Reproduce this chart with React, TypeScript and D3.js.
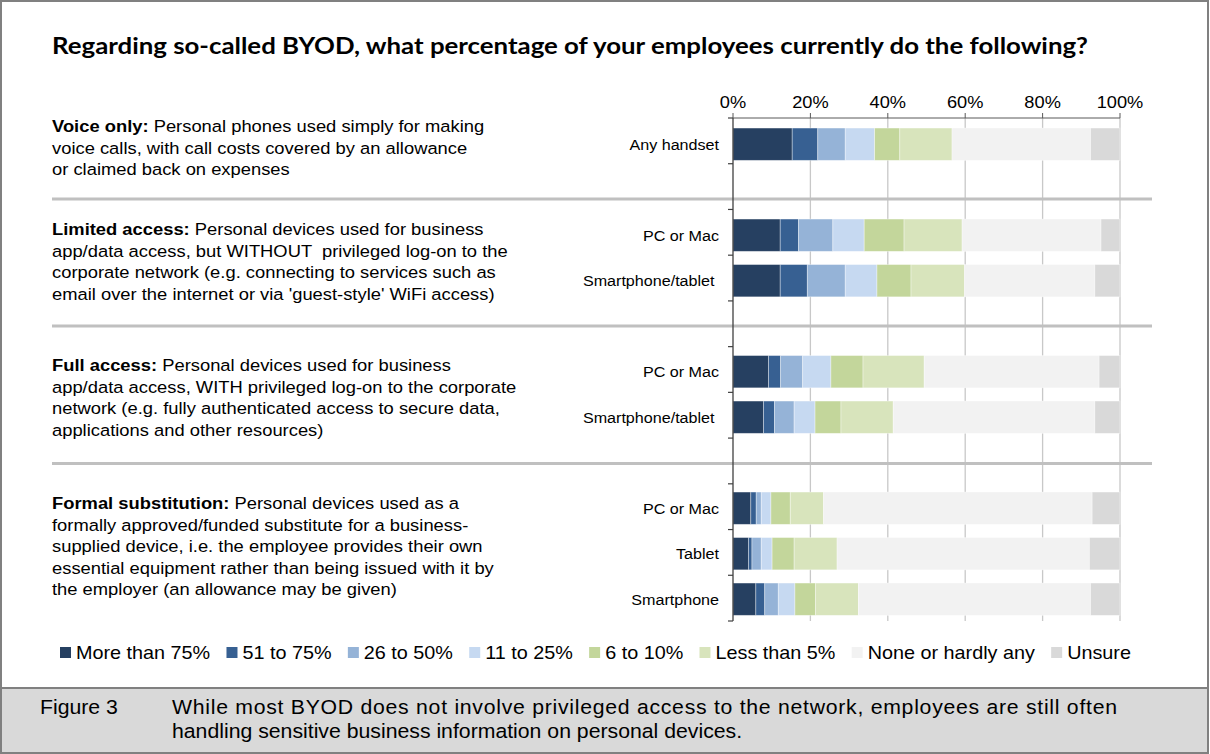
import React from 'react';
import * as d3 from 'd3';

// ---------- data ----------
const categories = ["Any handset", "", "PC or Mac", "Smartphone/tablet ", "", "PC or Mac", "Smartphone/tablet ", "", "PC or Mac", "Tablet", "Smartphone"];
const seriesNames = ["More than 75%", "51 to 75%", "26 to 50%", "11 to 25%", "6 to 10%", "Less than 5%", "None or hardly any", "Unsure"];
const seriesColors = ["#264061", "#376092", "#95b3d7", "#c6d9f1", "#c3d69b", "#d8e4bc", "#f2f2f2", "#d9d9d9"];
const moreThan75 = [15.3, null, 12.2, 12.2, null, 9.2, 7.9, null, 4.6, 4.0, 5.9];
const from51to75 = [6.6, null, 4.7, 7.0, null, 3.1, 2.8, null, 1.4, 0.9, 2.3];
const from26to50 = [7.1, null, 8.9, 9.8, null, 5.7, 5.1, null, 1.3, 2.4, 3.5];
const from11to25 = [7.6, null, 8.1, 8.2, null, 7.3, 5.4, null, 2.5, 2.8, 4.3];
const from6to10 = [6.5, null, 10.3, 8.8, null, 8.3, 6.7, null, 5.0, 5.7, 5.3];
const lessThan5 = [13.5, null, 15.0, 13.8, null, 15.8, 13.5, null, 8.6, 11.1, 11.1];
const noneOrHardlyAny = [35.8, null, 35.9, 33.7, null, 45.2, 52.1, null, 69.4, 65.2, 60.0];
const unsure = [7.6, null, 4.9, 6.5, null, 5.4, 6.5, null, 7.2, 7.9, 7.6];
const seriesValues = [moreThan75, from51to75, from26to50, from11to25, from6to10, lessThan5, noneOrHardlyAny, unsure];
const tickValues = [0, 20, 40, 60, 80, 100];

const titleText = "Regarding so-called BYOD, what percentage of your employees currently do the following?";
const sectionTexts: { bold: string; lines: string[] }[] = [
  { bold: "Voice only:", lines: [" Personal phones used simply for making", "voice calls, with call costs covered by an allowance", "or claimed back on expenses"] },
  { bold: "Limited access:", lines: [" Personal devices used for business", "app/data access, but WITHOUT  privileged log-on to the", "corporate network (e.g. connecting to services such as", "email over the internet or via 'guest-style' WiFi access)"] },
  { bold: "Full access:", lines: [" Personal devices used for business", "app/data access, WITH privileged log-on to the corporate", "network (e.g. fully authenticated access to secure data,", "applications and other resources)"] },
  { bold: "Formal substitution:", lines: [" Personal devices used as a", "formally approved/funded substitute for a business-", "supplied device, i.e. the employee provides their own", "essential equipment rather than being issued with it by", "the employer (an allowance may be given)"] },
];
const figureLabel = "Figure 3";
const captionLines = ["While most BYOD does not involve privileged access to the network, employees are still often", "handling sensitive business information on personal devices."];

// ---------- layout ----------
const W = 1210, H = 754;
const FONT = "'Liberation Sans', Arial, sans-serif";
const plotLeft = 733, plotRight = 1120, plotTop = 118, plotBottom = 621;
const sectionFirstBaselines = [132, 235, 371, 509];
const lineGap = 21.6;
const separatorYs = [199, 326, 463.5];

function measure(text: string, font: string) {
  const c = document.createElement('canvas');
  const ctx = c.getContext('2d')!;
  ctx.font = font;
  return ctx.measureText(text).width;
}

export default function App() {
  const x = d3.scaleLinear().domain([0, 100]).range([plotLeft, plotRight]);
  const y = d3.scaleBand<number>().domain(d3.range(categories.length)).range([plotTop, plotBottom])
    .paddingInner(0.29).paddingOuter(0.1725).align(0.64);
  const tickY = d3.scaleLinear().domain([0, categories.length]).range([plotTop, plotBottom]);

  const rows = categories.map((c, i) => {
    const r: any = { idx: i };
    seriesNames.forEach((s, k) => { r[s] = seriesValues[k][i] ?? 0; });
    return r;
  });
  const stacked = d3.stack<any>().keys(seriesNames)(rows);

  // legend layout
  const legSize = 18, legSx = 1.1, sq = 11, sqGap = 5;
  const legStart = 60, legEnd = 1131;
  const widths = seriesNames.map(s => measure(s, `${legSize}px 'Liberation Sans'`) * legSx + sq + sqGap);
  const gap = (legEnd - legStart - d3.sum(widths)) / (seriesNames.length - 1);
  const legX: number[] = [];
  let acc = legStart;
  widths.forEach(w => { legX.push(acc); acc += w + gap; });

  const descSize = 17, descSx = 1.08;
  const capSize = 19.5, capSx = 1.09;

  return (
    <svg width={W} height={H} style={{ position: 'absolute', left: 0, top: 0, background: '#fff' }} fontFamily={FONT}>
      <rect x={0} y={0} width={W} height={H} fill="#fff" />
      {/* caption band */}
      <rect x={1} y={688} width={W - 2} height={H - 689} fill="#d9d9d9" />
      <line x1={1} x2={W - 1} y1={688} y2={688} stroke="#808080" strokeWidth={2} />
      <rect x={1} y={1} width={W - 3} height={H - 2} fill="none" stroke="#808080" strokeWidth={2} />

      {/* title */}
      <text x={52} y={54} fontFamily="Lato, 'Open Sans', sans-serif" fontWeight="bold" fontSize={22.5}
        textLength={1036} lengthAdjust="spacingAndGlyphs" fill="#000">{titleText}</text>

      {/* gridlines */}
      {tickValues.filter(t => t > 0).map(t => (
        <line key={'g' + t} x1={x(t)} x2={x(t)} y1={plotTop} y2={plotBottom} stroke="#c8c8c8" strokeWidth={1.3} />
      ))}

      {/* separators */}
      {separatorYs.map((sy, i) => (
        <line key={'s' + i} x1={52} x2={1152} y1={sy} y2={sy} stroke="#c0c0c0" strokeWidth={3} />
      ))}

      {/* bars */}
      {stacked.map((layer, k) => (
        <g key={layer.key} fill={seriesColors[k]}>
          {layer.map((d, i) => (categories[i] === "" ? null : (
            <rect key={i} x={x(d[0])} y={y(i)!} width={Math.max(0, x(d[1]) - x(d[0]))} height={y.bandwidth()}
              stroke="#ffffff" strokeOpacity={0.45} strokeWidth={0.8} />
          )))}
        </g>
      ))}

      {/* top axis */}
      <line x1={plotLeft} x2={plotRight} y1={plotTop} y2={plotTop} stroke="#595959" strokeWidth={1} />
      {tickValues.map(t => (
        <g key={'t' + t}>
          <line x1={x(t)} x2={x(t)} y1={plotTop - 5} y2={plotTop} stroke="#595959" strokeWidth={1} />
          <text transform={`translate(${x(t)},107.5) scale(1.14,1)`} textAnchor="middle" fontSize={16} fill="#000">{t}%</text>
        </g>
      ))}

      {/* left axis */}
      <line x1={plotLeft} x2={plotLeft} y1={plotTop} y2={plotBottom} stroke="#404040" strokeWidth={1.3} />
      {d3.range(categories.length + 1).map(k => (
        <line key={'lt' + k} x1={plotLeft - 5} x2={plotLeft} y1={tickY(k)} y2={tickY(k)} stroke="#404040" strokeWidth={1.2} />
      ))}
      {categories.map((c, i) => c === "" ? null : (
        <text key={'c' + i} transform={`translate(719,${y(i)! + y.bandwidth() / 2 + 5.5}) scale(1.04,1)`}
          textAnchor="end" fontSize={15.5} fill="#000" style={{ whiteSpace: 'pre' }}>{c}</text>
      ))}

      {/* section descriptions */}
      {sectionTexts.map((s, si) => (
        <g key={'d' + si}>
          {s.lines.map((ln, li) => (
            <text key={li} transform={`translate(52,${sectionFirstBaselines[si] + li * lineGap}) scale(${descSx},1)`}
              fontSize={descSize} fill="#000" style={{ whiteSpace: 'pre' }}>
              {li === 0 ? <tspan fontWeight="bold">{s.bold}</tspan> : null}
              <tspan>{ln}</tspan>
            </text>
          ))}
        </g>
      ))}

      {/* legend */}
      {seriesNames.map((s, k) => (
        <g key={'l' + k}>
          <rect x={legX[k]} y={647} width={sq} height={sq} fill={seriesColors[k]} />
          <text transform={`translate(${legX[k] + sq + sqGap},658.5) scale(${legSx},1)`} fontSize={legSize} fill="#000">{s}</text>
        </g>
      ))}

      {/* caption */}
      <text transform={`translate(40,714) scale(${capSx},1)`} fontSize={capSize} fill="#000">{figureLabel}</text>
      <text transform={`translate(172,714) scale(${capSx},1)`} fontSize={capSize} fill="#000"
        textLength={945 / capSx} lengthAdjust="spacing">{captionLines[0]}</text>
      <text transform={`translate(172,738) scale(${capSx},1)`} fontSize={capSize} fill="#000">{captionLines[1]}</text>
    </svg>
  );
}
